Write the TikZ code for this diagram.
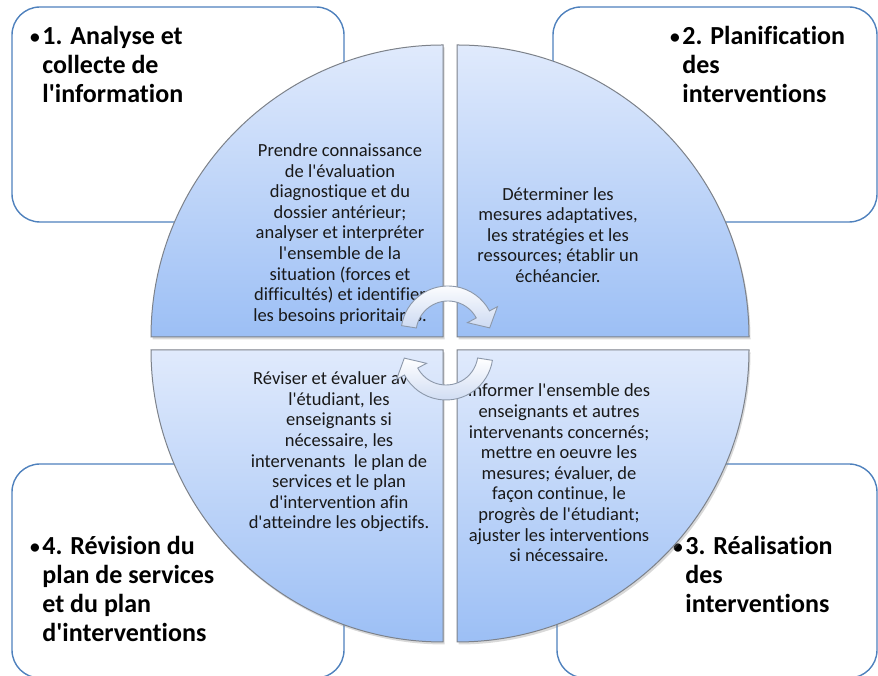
\documentclass[tikz,border=0pt]{standalone}
\usepackage{fontspec}
\setmainfont{Carlito}[Ligatures={TeXOff,NoCommon}]
\usetikzlibrary{shadows}
\definecolor{boxBlue}{RGB}{79, 129, 189}
\definecolor{quadTop}{RGB}{224, 234, 252}
\definecolor{quadBottom}{RGB}{156, 191, 245}
\definecolor{quadEdge}{RGB}{125, 130, 138}
\definecolor{arrowEdge}{RGB}{140, 152, 170}
\definecolor{arrowFill}{RGB}{205, 218, 242}
\definecolor{inkText}{RGB}{25, 25, 25}
\newcommand{\stagedot}{{\fontsize{19.5pt}{29pt}\selectfont\raisebox{1pt}{•}}\hspace{2.5pt}}

\begin{document}
\begin{tikzpicture}[
        x=1pt, y=1pt,
        stage/.style={draw=boxBlue, fill=white, line width=1.4pt, rounded corners=28pt},
        quarter/.style={draw=quadEdge, line width=1pt, top color=quadTop, bottom color=quadBottom, drop shadow={shadow xshift=1.5pt, shadow yshift=-2.5pt, opacity=0.3}},
        heading/.style={anchor=north west, inner sep=0pt, align=left, font=\fontsize{26pt}{29pt}\selectfont\bfseries},
        task/.style={align=center, inner sep=0pt, font=\fontsize{18.5pt}{20.6pt}\selectfont, text=inkText},
        turn/.style={draw=arrowEdge, line width=0.9pt, top color=white, bottom color=arrowFill}
    ]
        \useasboundingbox (0,0) rectangle (878,676);
        \clip (0,0) rectangle (878,676);

        % Stage boxes
        \draw[stage] (12,669) rectangle (344,454);
        \draw[stage] (553,669) rectangle (877,454);
        \draw[stage] (557,212) rectangle (877,-2);
        \draw[stage] (12,212) rectangle (344,-2);
        \node[heading] (analyse) at (30,650) {\stagedot1. Analyse et\\\hphantom{\stagedot}collecte de\\\hphantom{\stagedot}l'information};
        \node[heading] (planif) at (670,650) {\stagedot2. Planification\\\hphantom{\stagedot}des\\\hphantom{\stagedot}interventions};
        \node[heading] (realis) at (673,140) {\stagedot3. Réalisation\\\hphantom{\stagedot}des\\\hphantom{\stagedot}interventions};
        \node[heading] (revis) at (30,140) {\stagedot4. Révision du\\\hphantom{\stagedot}plan de services\\\hphantom{\stagedot}et du plan\\\hphantom{\stagedot}d'interventions};

        % Circle quarters
        \draw[quarter] (443,339) -- ++(-292,0) arc[start angle=180, end angle=90, radius=292] -- cycle;
        \draw[quarter] (457,339) -- ++(0,292) arc[start angle=90, end angle=0, radius=292] -- cycle;
        \draw[quarter] (457,326) -- ++(292,0) arc[start angle=0, end angle=-90, radius=292] -- cycle;
        \draw[quarter] (443,326) -- ++(0,-292) arc[start angle=270, end angle=180, radius=292] -- cycle;
        \node[task] (t1) at (340,442) {Prendre connaissance\\de l'évaluation\\diagnostique et du\\dossier antérieur;\\analyser et interpréter\\l'ensemble de la\\situation (forces et\\difficultés) et identifier\\les besoins prioritaires.};
        \node[task] (t2) at (558,441) {Déterminer les\\mesures adaptatives,\\les stratégies et les\\ressources; établir un\\échéancier.};
        \node[task] (t3) at (559,203) {Informer l'ensemble des\\enseignants et autres\\intervenants concernés;\\mettre en oeuvre les\\mesures; évaluer, de\\façon continue, le\\progrès de l'étudiant;\\ajuster les interventions\\si nécessaire.};
        \node[task] (t4) at (339,224) {Réviser et évaluer avec\\l'étudiant, les\\enseignants si\\nécessaire, les\\intervenants~ le plan de\\services et le plan\\d'intervention afin\\d'atteindre les objectifs.};

        % Cycle arrows
        \draw[turn, shift={(448,343)}] (171:47) arc[start angle=171, end angle=28, radius=47] -- (28:56) -- (7:42) -- (28:22) -- (28:32) arc[start angle=28, end angle=171, radius=32] -- cycle;
        \draw[turn, shift={(446,323)}] (351:47) arc[start angle=351, end angle=208, radius=47] -- (208:56) -- (187:42) -- (208:22) -- (208:32) arc[start angle=208, end angle=351, radius=32] -- cycle;
    \end{tikzpicture}
\end{document}
